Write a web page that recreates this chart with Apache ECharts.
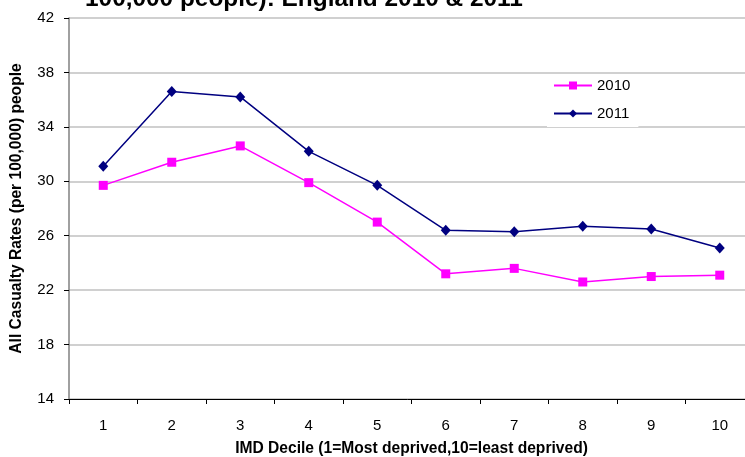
<!DOCTYPE html>
<html>
<head>
<meta charset="utf-8">
<script src="https://cdn.jsdelivr.net/npm/echarts@6/dist/echarts.min.js"></script>
<style>
	html, body { margin: 0; padding: 0; background: #fff; }
	#main { width: 745px; height: 457px; }
</style>
</head>
<body>
<div id="main"></div>
<script>
// IMD deciles and casualty rates per 100,000
var deciles = ['1', '2', '3', '4', '5', '6', '7', '8', '9', '10'];
var rates2010 = [29.7, 31.4, 32.6, 29.9, 27.0, 23.2, 23.6, 22.6, 23.0, 23.1];
var rates2011 = [31.1, 36.6, 36.2, 32.2, 29.7, 26.4, 26.3, 26.7, 26.5, 25.1];
var seriesNames = ['2010', '2011'];

var chart = echarts.init(document.getElementById('main'));
var font = 'Liberation Sans, Arial, sans-serif';

var option = {
	animation: false,
	title: {
		text: '100,000 people): England 2010 & 2011',
		left: 80,
		top: -18,
		textStyle: { fontFamily: font, fontSize: 24.4, fontWeight: 'bold', color: '#000' }
	},
	legend: {
		orient: 'vertical',
		left: 547,
		top: 74,
		itemWidth: 38,
		itemHeight: 10,
		itemGap: 13,
		padding: [4, 8, 6, 6],
		backgroundColor: '#fff',
		data: seriesNames,
		textStyle: { fontFamily: font, fontSize: 15, color: '#000' }
	},
	grid: { left: 69, right: -9, top: 18, bottom: 58, outerBoundsMode: 'none', containLabel: false },
	xAxis: {
		type: 'category',
		data: deciles,
		boundaryGap: true,
		name: 'IMD Decile (1=Most deprived,10=least deprived)',
		nameLocation: 'middle',
		nameGap: 42,
		nameTextStyle: { fontFamily: font, fontSize: 15.6, fontWeight: 'bold', color: '#000' },
		axisLine: { lineStyle: { color: '#000', width: 1 } },
		axisTick: { show: true, length: 5, lineStyle: { color: '#000' } },
		axisLabel: { fontFamily: font, fontSize: 15, color: '#000', margin: 19 }
	},
	yAxis: {
		type: 'value',
		min: 14,
		max: 42,
		interval: 4,
		name: 'All Casualty Rates (per 100,000) people',
		nameLocation: 'middle',
		nameGap: 44,
		nameRotate: 90,
		nameTextStyle: { fontFamily: font, fontSize: 15.6, fontWeight: 'bold', color: '#000' },
		axisLine: { show: true, lineStyle: { color: '#808080', width: 1.5 } },
		axisTick: { show: true, length: 5, lineStyle: { color: '#000' } },
		axisLabel: { fontFamily: font, fontSize: 15, color: '#000', margin: 15 },
		splitLine: { lineStyle: { color: '#c0c0c0', width: 1.5 } }
	},
	series: [
		{
			name: seriesNames[0],
			type: 'line',
			data: rates2010,
			symbol: 'rect',
			symbolSize: 9,
			color: '#ff00ff',
			lineStyle: { width: 1.5, color: '#ff00ff' },
			itemStyle: { color: '#ff00ff' },
			z: 3
		},
		{
			name: seriesNames[1],
			type: 'line',
			data: rates2011,
			symbol: 'diamond',
			symbolSize: [10, 11],
			color: '#000080',
			lineStyle: { width: 1.5, color: '#000080' },
			itemStyle: { color: '#000080' },
			z: 3
		}
	]
};
chart.setOption(option);
</script>
</body>
</html>
